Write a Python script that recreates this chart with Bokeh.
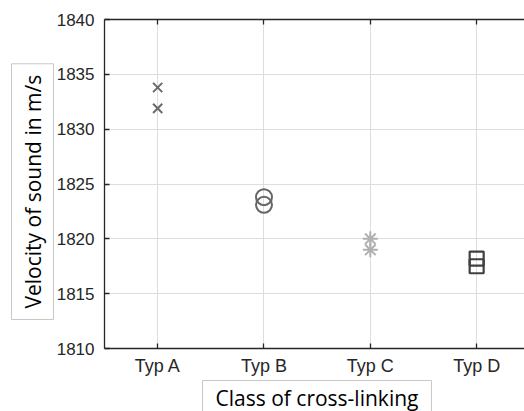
from bokeh.plotting import figure
from bokeh.models import Range1d, FixedTicker, LinearAxis, Title, Grid
from bokeh.embed import file_html
from bokeh.resources import INLINE

categories = ["Typ A", "Typ B", "Typ C", "Typ D"]
typ_a = [1833.8, 1831.9]
typ_b = [1823.8, 1823.1]
typ_c = [1820.0, 1819.0]
typ_d = [1818.2, 1817.5]
y_ticks = [1810, 1815, 1820, 1825, 1830, 1835, 1840]

W, H = 524, 411
FL, FT, FB = 104, 19, 62  # frame borders

p = figure(width=W, height=H, output_backend="svg", toolbar_location=None,
           x_range=Range1d(0.5, 0.5 + (W - FL) / 106.33), y_range=Range1d(1810, 1840),
           min_border_left=FL, min_border_right=0, min_border_top=FT, min_border_bottom=FB,
           x_axis_location=None, y_axis_location=None)
p.outline_line_color = None
p.background_fill_color = "white"
p.border_fill_color = "white"
p.renderers = []
p.center = []

pos = list(range(1, len(categories) + 1))
overrides = {i: c for i, c in zip(pos, categories)}

def style_axis(ax, size):
    ax.axis_line_color = "#262626"
    ax.axis_line_width = 1.3
    ax.major_tick_line_color = "#262626"
    ax.major_tick_line_width = 1.3
    ax.major_tick_in = 5
    ax.major_tick_out = 0
    ax.minor_tick_line_color = None
    ax.major_label_text_font = "Liberation Sans"
    ax.major_label_text_font_size = size
    ax.major_label_text_color = "#262626"
    ax.axis_label_standoff = 0

xb = LinearAxis(ticker=FixedTicker(ticks=pos), major_label_overrides=overrides)
style_axis(xb, "18px")
xb.major_label_standoff = 7
p.add_layout(xb, "below")

xt = LinearAxis(ticker=FixedTicker(ticks=pos), major_label_overrides={i: "" for i in pos})
style_axis(xt, "16px")
xt.major_label_standoff = 0
p.add_layout(xt, "above")

yl = LinearAxis(ticker=FixedTicker(ticks=y_ticks))
style_axis(yl, "17px")
yl.major_label_standoff = 10
p.add_layout(yl, "left")

p.add_layout(Grid(dimension=0, ticker=FixedTicker(ticks=pos), grid_line_color="#dedede", grid_line_width=1))
p.add_layout(Grid(dimension=1, ticker=FixedTicker(ticks=y_ticks), grid_line_color="#dedede", grid_line_width=1))

p.scatter([pos[0]] * len(typ_a), typ_a, marker="x", size=13, line_color="#6b6b6b", line_width=2)
p.scatter([pos[1]] * len(typ_b), typ_b, marker="circle", size=16, fill_color=None, line_color="#666666", line_width=2)
p.scatter([pos[2]] * len(typ_c), typ_c, marker="asterisk", size=15, line_color="#b0b0b0", line_width=2)
p.scatter([pos[3]] * len(typ_d), typ_d, marker="square", size=14, fill_color=None, line_color="#404040", line_width=2.2)

ytitle = Title(text="Velocity of sound in m/s", align="left", offset=29, text_font="Open Sans",
               text_font_size="21px", text_font_style="normal", text_color="#000000",
               background_fill_color="white", border_line_color="#c8c8c8", border_line_width=1,
               padding=(11, 11, 7, 7), standoff=0)
p.add_layout(ytitle, "left")

xtitle = Title(text="Class of cross-linking", align="left", offset=98, text_font="Open Sans",
               text_font_size="21px", text_font_style="normal", text_color="#000000",
               background_fill_color="white", border_line_color="#c8c8c8", border_line_width=1,
               padding=(13, 13, 3, 0), standoff=0)
p.add_layout(xtitle, "below")

open("out.html", "w").write(file_html(p, INLINE))
